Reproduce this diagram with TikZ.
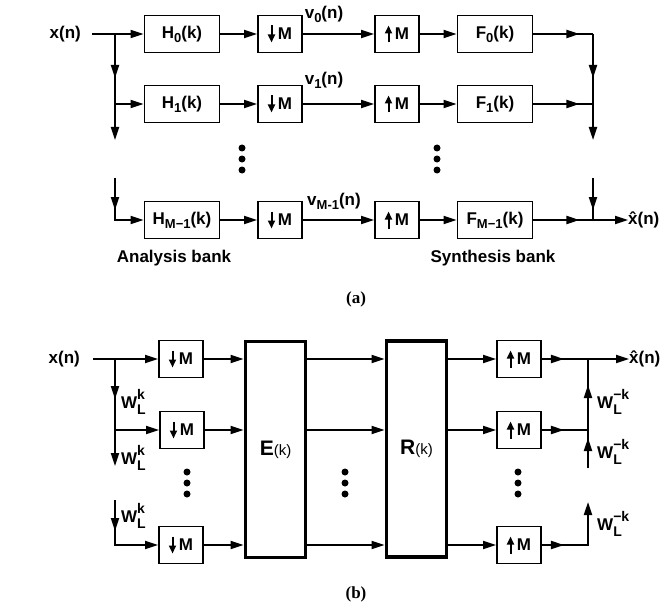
\documentclass[tikz,border=0pt]{standalone}
\usepackage{fontspec}
\setmainfont{Liberation Sans}
\newfontfamily\capfont{Liberation Serif}
\usetikzlibrary{arrows.meta,decorations.markings}
\newcommand\figfont{\fontsize{17}{19}\selectfont\bfseries}
\newcommand\dnM{\tikz[baseline=0pt]\draw[line width=2pt,-{Triangle[length=8pt,width=7pt]}] (0,14pt)--(0,-3pt);\,M}
\newcommand\upM{\tikz[baseline=0pt]\draw[line width=2pt,-{Triangle[length=8pt,width=7pt]}] (0,-3pt)--(0,14pt);\,M}
\newcommand\WL[1]{W\rlap{\raisebox{9pt}{\fontsize{14}{14}\selectfont #1}}\raisebox{-6pt}{\fontsize{14}{14}\selectfont L}}
\newcommand\sbs[1]{\raisebox{-4pt}{\fontsize{13}{13}\selectfont #1}}
\tikzset{
 ln/.style={line width=1.9pt},
 arr/.style={ln,-{Triangle[length=13pt,width=8pt]}},
 blk/.style={draw,line width=1.9pt,minimum height=37pt,inner sep=0pt,font=\figfont},
 filt/.style={blk,minimum width=75pt},
 mbox/.style={blk,minimum width=44pt},
 bigbox/.style={draw,line width=3.8pt,minimum width=60pt,minimum height=216pt,inner sep=0pt},
 tipat/.style={ln,postaction={decorate},decoration={markings,mark=at position #1 with {\arrow{Triangle[length=13pt,width=8pt]}}}},
 dotc/.style={fill,circle,inner sep=0pt,minimum size=7pt},
 lab/.style={font=\figfont,inner sep=0pt},
 captxt/.style={inner sep=0pt,font=\capfont\fontsize{17}{18}\selectfont\bfseries},
}
\begin{document}
\begin{tikzpicture}[x=1pt,y=-1pt]
\useasboundingbox (0,0) rectangle (668,604);
\fill[white] (0,0) rectangle (668,604);
% ---------------- (a) ----------------
\node[lab,anchor=east] (xa) at (81,34) {x(n)};
\coordinate (ja1) at (115,34);
\coordinate (ja2) at (115,104);
\coordinate (ja2e) at (115,140);
\coordinate (ja3s) at (115,178);
\coordinate (ja3) at (115,220);
\coordinate (jb1) at (593,34);
\coordinate (jb2) at (593,104);
\coordinate (jb2e) at (593,140);
\coordinate (jb3s) at (593,178);
\coordinate (jb3) at (593,220);

\node[filt] (H0) at (182,34) {H\sbs{0}(k)};
\node[filt] (H1) at (182,104) {H\sbs{1}(k)};
\node[filt] (H2) at (182,220) {H\sbs{M−1}(k)};
\node[mbox] (D0) at (280,34) {\dnM};
\node[mbox] (D1) at (280,104) {\dnM};
\node[mbox] (D2) at (280,220) {\dnM};
\node[mbox] (U0) at (397,34) {\upM};
\node[mbox] (U1) at (397,104) {\upM};
\node[mbox] (U2) at (397,220) {\upM};
\node[filt] (F0) at (495,34) {F\sbs{0}(k)};
\node[filt] (F1) at (495,104) {F\sbs{1}(k)};
\node[filt] (F2) at (495,220) {F\sbs{M−1}(k)};
\node[lab,anchor=west] (xha) at (628,220) {\^{x}(n)};

\node[lab] (v0) at (324,14) {v\sbs{0}(n)};
\node[lab] (v1) at (324,80) {v\sbs{1}(n)};
\node[lab] (v2) at (334,201) {v\sbs{M-1}(n)};

\draw[ln] ([xshift=11pt]xa.east) -- (ja1);
\draw[arr] (ja1) -- (H0);
\draw[arr] (ja2) -- (H1);
\draw[arr,tipat=44pt] (ja1) -- (ja2e);
\draw[arr,tipat=32pt] (ja3s) -- (ja3) -- (H2);
\foreach \i in {0,1,2}{
  \draw[arr] (H\i) -- (D\i);
  \draw[arr] (D\i) -- (U\i);
  \draw[arr] (U\i) -- (F\i);
}
\draw[tipat=46pt] (F0) -- (jb1);
\draw[tipat=46pt] (F1) -- (jb2);
\draw[arr,tipat=46pt] (F2) -- (xha);
\draw[arr,tipat=44pt] (jb1) -- (jb2e);
\draw[tipat=32pt] (jb3s) -- (jb3);

\foreach \y [count=\k] in {148,159,170}{
  \node[dotc] (da\k) at (242,\y) {};
  \node[dotc] (db\k) at (437,\y) {};
}
\node[lab] (anb) at (174,258) {Analysis bank};
\node[lab] (synb) at (493,258) {Synthesis bank};
\node[captxt] (capa) at (356,299) {(a)};

% ---------------- (b) ----------------
\node[lab,anchor=east] (xb) at (80,359) {x(n)};
\coordinate (jl1) at (115,359);
\coordinate (jl2) at (115,430);
\coordinate (jl2e) at (115,466);
\coordinate (jl3s) at (115,500);
\coordinate (jl3) at (115,545);
\coordinate (jr1) at (588,359);
\coordinate (jr2) at (588,430);
\coordinate (jr2e) at (588,468);
\coordinate (jr3) at (588,545);
\coordinate (jr3e) at (588,502);

\node[mbox] (Db0) at (181,359) {\dnM};
\node[mbox] (Db1) at (182,430) {\dnM};
\node[mbox] (Db2) at (181,545) {\dnM};
\node[bigbox] (E) at (275.5,449.5) {{\fontsize{21}{22}\selectfont\bfseries E}{\fontsize{15}{15}\selectfont (k)}};
\node[bigbox] (R) at (416.5,449) {{\fontsize{21}{22}\selectfont\bfseries R}{\fontsize{15}{15}\selectfont (k)}};
\node[mbox] (Ub0) at (519,359) {\upM};
\node[mbox] (Ub1) at (519,430) {\upM};
\node[mbox] (Ub2) at (519,545) {\upM};
\node[lab,anchor=west] (xhb) at (629,359) {\^{x}(n)};

\draw[ln] ([xshift=13pt]xb.east) -- (jl1);
\draw[arr] (jl1) -- (Db0);
\draw[arr] (jl2) -- (Db1);
\draw[arr,tipat=40pt] (jl1) -- (jl2e);
\draw[arr,tipat=31pt] (jl3s) -- (jl3) -- (Db2);
\foreach \i in {0,1,2}{
  \draw[arr] (Db\i) -- (Db\i -| E.west);
  \draw[arr] (E.east |- Db\i) -- (R.west |- Db\i);
  \draw[arr] (R.east |- Ub\i) -- (Ub\i);
}
\draw[arr,tipat=22pt] (Ub0) -- (xhb);
\draw[tipat=22pt] (Ub1) -- (jr2);
\draw[arr,tipat=22pt] (Ub2) -- (jr3) -- (jr3e);
\draw[tipat=45pt] (jr2) -- (jr1);
\draw[tipat=30pt] (jr2e) -- (jr2);

\node[lab,anchor=west] (wl1) at (121,402) {\WL{k}};
\node[lab,anchor=west] (wl2) at (121,458) {\WL{k}};
\node[lab,anchor=west] (wl3) at (121,516) {\WL{k}};
\node[lab,anchor=west] (wr1) at (597,402) {\WL{−k}};
\node[lab,anchor=west] (wr2) at (597,452) {\WL{−k}};
\node[lab,anchor=west] (wr3) at (597,524) {\WL{−k}};

\foreach \y [count=\k] in {472,483,494}{
  \node[dotc] (dc\k) at (187,\y) {};
  \node[dotc] (dd\k) at (345,\y) {};
  \node[dotc] (de\k) at (518,\y) {};
}
\node[captxt] (capb) at (356,594) {(b)};
\end{tikzpicture}
\end{document}
